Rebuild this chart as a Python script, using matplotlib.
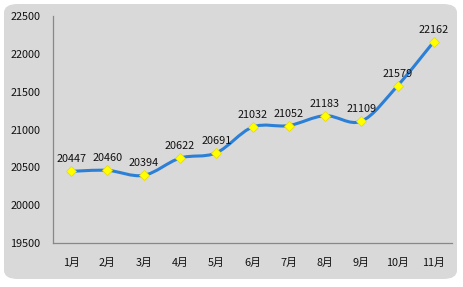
import numpy as np
import matplotlib
matplotlib.use("Agg")
import matplotlib.pyplot as plt
from matplotlib.path import Path
from matplotlib.patches import PathPatch, FancyBboxPatch

plt.rcParams['font.family'] = ['Noto Sans CJK SC', 'DejaVu Sans']

months = ["1月", "2月", "3月", "4月", "5月", "6月", "7月", "8月", "9月", "10月", "11月"]
values = [20447, 20460, 20394, 20622, 20691, 21032, 21052, 21183, 21109, 21579, 22162]
yticks = [19500, 20000, 20500, 21000, 21500, 22000, 22500]

fig = plt.figure(figsize=(4.63, 2.87), dpi=100)
fig.patch.set_facecolor('white')
bg = FancyBboxPatch((4/463, 8/287), 453/463, 275/287,
                    boxstyle="round,pad=0,rounding_size=0.03",
                    transform=fig.transFigure, facecolor='#d9d9d9',
                    edgecolor='none', zorder=-10)
fig.add_artist(bg)

ax = fig.add_axes([53/463, 44/287, 399/463, 227/287])
ax.set_zorder(1)
ax.patch.set_alpha(0)

x = np.arange(len(months))
y = np.array(values, dtype=float)

# smooth curve via Catmull-Rom -> cubic Bezier (rendering of the data points)
verts = [(x[0], y[0])]
codes = [Path.MOVETO]
n = len(x)
for i in range(n - 1):
    p0 = (x[max(i - 1, 0)], y[max(i - 1, 0)])
    p1 = (x[i], y[i])
    p2 = (x[i + 1], y[i + 1])
    p3 = (x[min(i + 2, n - 1)], y[min(i + 2, n - 1)])
    t = 1 / 6
    c1 = (p1[0] + (p2[0] - p0[0]) * t, p1[1] + (p2[1] - p0[1]) * t)
    c2 = (p2[0] - (p3[0] - p1[0]) * t, p2[1] - (p3[1] - p1[1]) * t)
    verts += [c1, c2, p2]
    codes += [Path.CURVE4] * 3
ax.add_patch(PathPatch(Path(verts, codes), facecolor='none',
                       edgecolor='#2b7fd6', lw=2.2, zorder=2))
ax.plot(x, y, linestyle='none', marker='D', markersize=5,
        markerfacecolor='#ffff00', markeredgecolor='#e8d800',
        markeredgewidth=0.5, zorder=3)

for xi, yi, v in zip(x, y, values):
    ax.annotate(str(v), (xi, yi), xytext=(0, 5), textcoords='offset points',
                ha='center', va='bottom', fontsize=7.8, color='#111111',
                zorder=4)

ax.set_xlim(-0.5, len(months) - 0.5)
ax.set_ylim(19500, 22500)
ax.set_yticks(yticks)
ax.set_yticklabels([str(t) for t in yticks])
ax.set_xticks(x)
ax.set_xticklabels(months)
ax.tick_params(axis='both', length=0, labelsize=7.8, colors='#111111')
ax.tick_params(axis='x', pad=11)
ax.tick_params(axis='y', pad=9)
for s in ['top', 'right']:
    ax.spines[s].set_visible(False)
for s in ['left', 'bottom']:
    ax.spines[s].set_color('#888888')
    ax.spines[s].set_linewidth(0.9)

fig.savefig('out.png', dpi=100, facecolor=fig.get_facecolor())
